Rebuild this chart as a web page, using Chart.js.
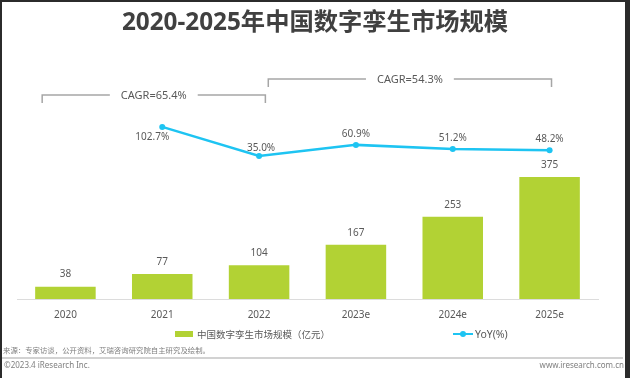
<!DOCTYPE html>
<html>
<head>
<meta charset="utf-8">
<script src="https://cdn.jsdelivr.net/npm/chart.js@4.4.1/dist/chart.umd.min.js"></script>
<style>
html,body{margin:0;padding:0;background:#fff;}
#wrap{position:relative;width:630px;height:378px;overflow:hidden;background:#fff;font-family:"Noto Sans","Noto Sans CJK SC",sans-serif;}
#c{position:absolute;left:0;top:0;}
.abs{position:absolute;white-space:nowrap;}
#title{left:0;width:630px;top:8px;text-align:center;font-size:24.3px;line-height:26px;font-weight:700;color:#404040;}
.leg{font-size:9.5px;line-height:12px;color:#595959;font-family:"Noto Sans CJK SC",sans-serif;}
#legBarBox{left:175px;top:330.5px;width:18px;height:6px;background:#B2D234;}
#legBarTxt{left:197px;top:327.7px;}
#legLine{left:453px;top:332.7px;width:20px;height:2px;background:#1EC4F2;}
#legDot{left:460px;top:330.7px;width:6px;height:6px;border-radius:50%;background:#1EC4F2;}
#legLineTxt{left:475px;top:327.7px;font-size:10.5px;font-family:"Noto Sans",sans-serif;}
#source{left:3px;top:345px;font-size:7.4px;line-height:10px;color:#7f7f7f;font-family:"Noto Sans CJK SC",sans-serif;}
#sep{left:0;top:357px;width:623px;height:2px;background:#d2d2d2;}
#copy{left:4px;top:360px;font-size:8px;line-height:10px;color:#7f7f7f;}
#site{right:6px;top:360px;font-size:8px;line-height:10px;color:#7f7f7f;}
.bd{position:absolute;background:#2b2b2b;}
</style>
</head>
<body>
<div id="wrap">
  <canvas id="c" width="630" height="378"></canvas>
  <div id="title" class="abs">2020-2025年中国数字孪生市场规模</div>
  <div id="legBarBox" class="abs"></div>
  <div id="legBarTxt" class="abs leg">中国数字孪生市场规模（亿元）</div>
  <div id="legLine" class="abs"></div>
  <div id="legDot" class="abs"></div>
  <div id="legLineTxt" class="abs leg">YoY(%)</div>
  <div id="source" class="abs">来源：专家访谈，公开资料，艾瑞咨询研究院自主研究及绘制。</div>
  <div id="sep" class="abs"></div>
  <div id="copy" class="abs">©2023.4 iResearch Inc.</div>
  <div id="site" class="abs">www.iresearch.com.cn</div>
  <div class="bd" style="left:0;top:0;width:2px;height:378px;"></div>
  <div class="bd" style="left:0;top:0;width:630px;height:2px;"></div>
  <div class="bd" style="left:625px;top:0;width:5px;height:378px;"></div>
</div>
<script>
// ---- data ----
const years = ['2020', '2021', '2022', '2023e', '2024e', '2025e'];
const marketSize = [38, 77, 104, 167, 253, 375];          // 亿元
const yoy = [null, 102.7, 35.0, 60.9, 51.2, 48.2];        // %
const cagrLabels = ['CAGR=65.4%', 'CAGR=54.3%'];
const cagrSpans = [[0, 2], [2, 5]];                       // category index ranges

const BAR_COLOR = '#B2D234';
const LINE_COLOR = '#1EC4F2';
const TXT = '#595959';
const FONT = '"Noto Sans", "Noto Sans CJK SC", sans-serif';

const labelPlugin = {
  id: 'valueLabels',
  afterDatasetsDraw(chart) {
    const ctx = chart.ctx;
    ctx.save();
    ctx.font = '10px ' + FONT;
    ctx.fillStyle = TXT;
    ctx.textAlign = 'center';
    ctx.textBaseline = 'middle';
    chart.getDatasetMeta(0).data.forEach((el, i) => {
      ctx.fillText(String(marketSize[i]), el.x, el.y - 12);
    });
    const firstIdx = yoy.findIndex(v => v != null);
    chart.getDatasetMeta(1).data.forEach((el, i) => {
      const v = yoy[i];
      if (v == null) return;
      const t = v.toFixed(1) + '%';
      if (i === firstIdx) ctx.fillText(t, el.x - 10, el.y + 10);
      else ctx.fillText(t, el.x + (i === firstIdx + 1 ? 2 : 0), el.y - (i === firstIdx + 1 ? 8 : 11));
    });
    ctx.restore();
  }
};

const cagrPlugin = {
  id: 'cagr',
  afterDraw(chart) {
    const ctx = chart.ctx;
    const xs = chart.scales.x;
    const w = xs.width / years.length;
    const cfg = [
      {l: -0.24, r: 0.065, y: 95},
      {l: 0.095, r: 0.02, y: 79}
    ];
    ctx.save();
    ctx.font = '11px ' + FONT;
    cagrSpans.forEach((sp, k) => {
      const xl = xs.getPixelForValue(sp[0]) + cfg[k].l * w;
      const xr = xs.getPixelForValue(sp[1]) + cfg[k].r * w;
      const y = cfg[k].y;
      const cx = (xl + xr) / 2;
      const tw = ctx.measureText(cagrLabels[k]).width;
      const gap = tw / 2 + 11;
      ctx.strokeStyle = '#a6a6a6';
      ctx.lineWidth = 1.5;
      ctx.beginPath();
      ctx.moveTo(xl, y + 8); ctx.lineTo(xl, y); ctx.lineTo(cx - gap, y);
      ctx.moveTo(cx + gap, y); ctx.lineTo(xr, y); ctx.lineTo(xr, y + 8);
      ctx.stroke();
      ctx.fillStyle = TXT;
      ctx.textAlign = 'center';
      ctx.textBaseline = 'middle';
      ctx.fillText(cagrLabels[k], cx, y + 1);
    });
    ctx.restore();
  }
};

new Chart(document.getElementById('c'), {
  data: {
    labels: years,
    datasets: [
      {
        type: 'bar', label: '中国数字孪生市场规模（亿元）', data: marketSize,
        backgroundColor: BAR_COLOR, yAxisID: 'y',
        barPercentage: 0.625, categoryPercentage: 1, order: 2
      },
      {
        type: 'line', label: 'YoY(%)', data: yoy,
        borderColor: LINE_COLOR, backgroundColor: LINE_COLOR,
        borderWidth: 2.5, pointRadius: 3, pointBackgroundColor: LINE_COLOR,
        pointBorderWidth: 0, yAxisID: 'y2', order: 1, tension: 0
      }
    ]
  },
  options: {
    responsive: false,
    animation: false,
    devicePixelRatio: 1,
    layout: {padding: {left: 17, right: 32, top: 60, bottom: 47}},
    plugins: {legend: {display: false}, title: {display: false}, tooltip: {enabled: false}},
    scales: {
      x: {
        offset: true,
        grid: {display: false, drawTicks: false},
        border: {display: true, color: '#dcdcdc', width: 1},
        ticks: {color: TXT, font: {size: 10, family: FONT}, padding: 10}
      },
      y: {display: false, min: 0, max: 735},
      y2: {display: false, min: -297, max: 258}
    }
  },
  plugins: [labelPlugin, cagrPlugin]
});
</script>
</body>
</html>
